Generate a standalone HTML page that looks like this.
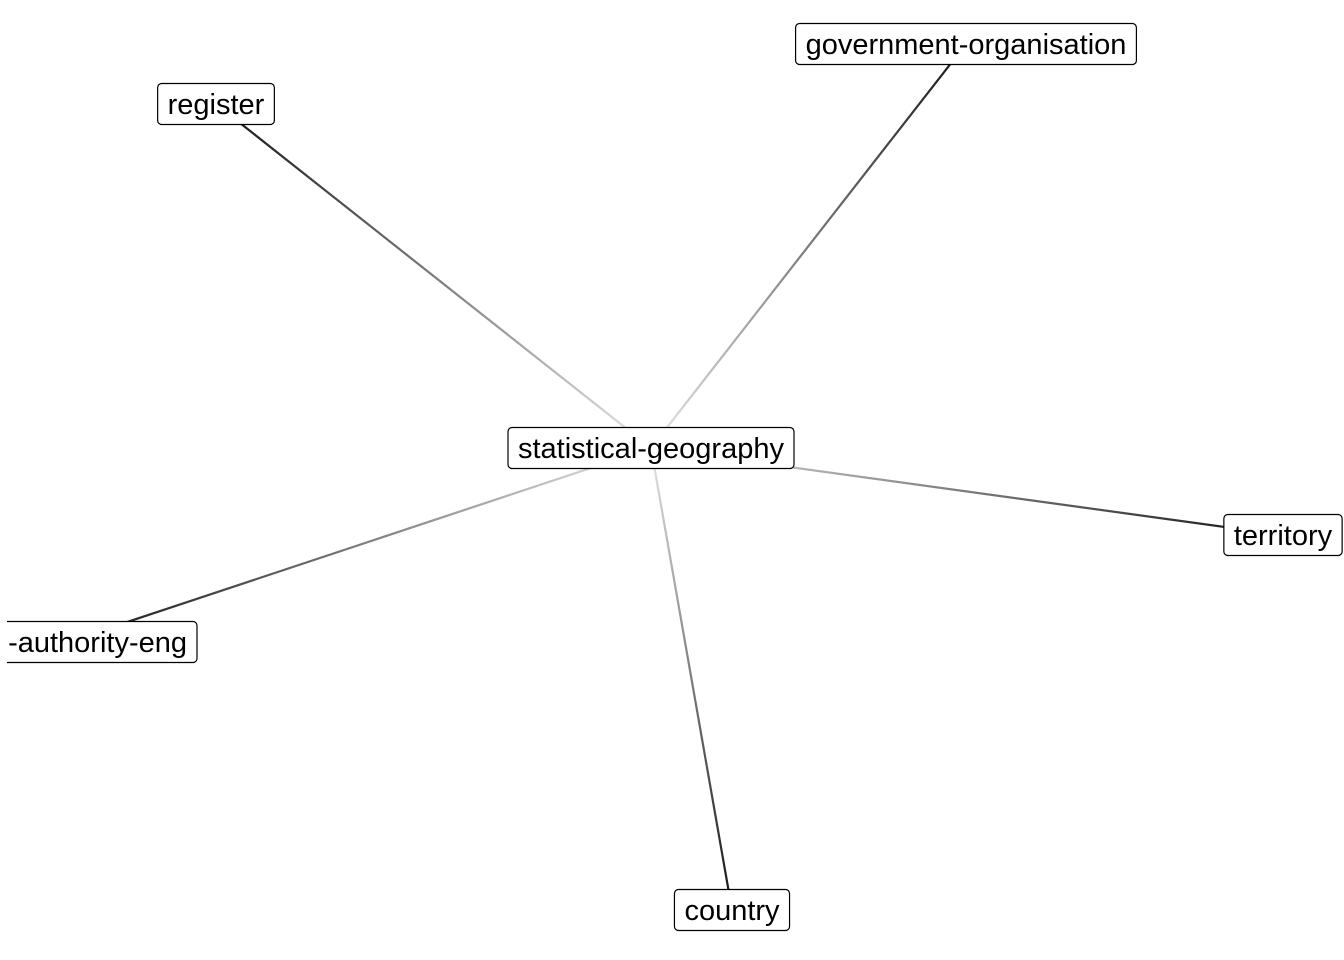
<!DOCTYPE html>
<html><head><meta charset="utf-8"><style>
html,body{margin:0;padding:0;background:#fff;}
svg{display:block;}
text{font-family:"Liberation Sans",sans-serif;font-size:29px;fill:#000;}
</style></head><body>
<svg id="chart" width="1344" height="960"></svg>
<script>
const nodeNames = ["statistical-geography","government-organisation","register","territory","local-authority-eng","country"];
const nodeX = [651, 966, 216, 1283, 67, 732];
const nodeY = [448, 44, 104, 535, 642, 910];
const edgeFrom = [0,0,0,0,0];
const edgeTo = [1,2,3,4,5];
const NS = "http://www.w3.org/2000/svg";
const svg = document.getElementById('chart');
const defs = document.createElementNS(NS,'defs');
svg.appendChild(defs);
const cp=document.createElementNS(NS,'clipPath');
cp.setAttribute('id','panel');
const cr=document.createElementNS(NS,'rect');
cr.setAttribute('x',7);cr.setAttribute('y',0);cr.setAttribute('width',1337);cr.setAttribute('height',960);
cp.appendChild(cr);defs.appendChild(cp);
const edgesG = document.createElementNS(NS,'g');


svg.appendChild(edgesG);
const nodesG = document.createElementNS(NS,'g');


nodesG.setAttribute('clip-path','url(#panel)');
svg.appendChild(nodesG);
for (let i=0;i<edgeFrom.length;i++){
  const a=edgeFrom[i], b=edgeTo[i];
  const g=document.createElementNS(NS,'linearGradient');
  g.setAttribute('id','grad'+i);
  g.setAttribute('gradientUnits','userSpaceOnUse');
  g.setAttribute('x1',nodeX[a]);g.setAttribute('y1',nodeY[a]);
  g.setAttribute('x2',nodeX[b]);g.setAttribute('y2',nodeY[b]);
  const s1=document.createElementNS(NS,'stop');s1.setAttribute('offset','0');s1.setAttribute('stop-color','#e6e6e6');
  const s2=document.createElementNS(NS,'stop');s2.setAttribute('offset','1');s2.setAttribute('stop-color','#111');
  g.appendChild(s1);g.appendChild(s2);defs.appendChild(g);
  const l=document.createElementNS(NS,'line');
  l.setAttribute('x1',nodeX[a]);l.setAttribute('y1',nodeY[a]);
  l.setAttribute('x2',nodeX[b]);l.setAttribute('y2',nodeY[b]);
  l.setAttribute('stroke','url(#grad'+i+')');l.setAttribute('stroke-width','2.2');
  
  
  edgesG.appendChild(l);
}
for (let i=0;i<nodeNames.length;i++){
  const g=document.createElementNS(NS,'g');
  
  
  const r=document.createElementNS(NS,'rect');
  const t=document.createElementNS(NS,'text');
  t.textContent=nodeNames[i];
  t.setAttribute('text-anchor','middle');
  g.appendChild(r);g.appendChild(t);nodesG.appendChild(g);
  const w=t.getComputedTextLength()+20;
  let cx=nodeX[i];
  if (cx - w/2 < 0) cx = 197 - w/2;
  t.setAttribute('x',cx);t.setAttribute('y',nodeY[i]+10);
  r.setAttribute('x',cx-w/2);r.setAttribute('y',nodeY[i]-20.5);
  r.setAttribute('width',w);r.setAttribute('height',41);
  r.setAttribute('rx',4);r.setAttribute('fill','#fff');
  r.setAttribute('stroke','#000');r.setAttribute('stroke-width','1.2');
}
</script>
</body></html>
